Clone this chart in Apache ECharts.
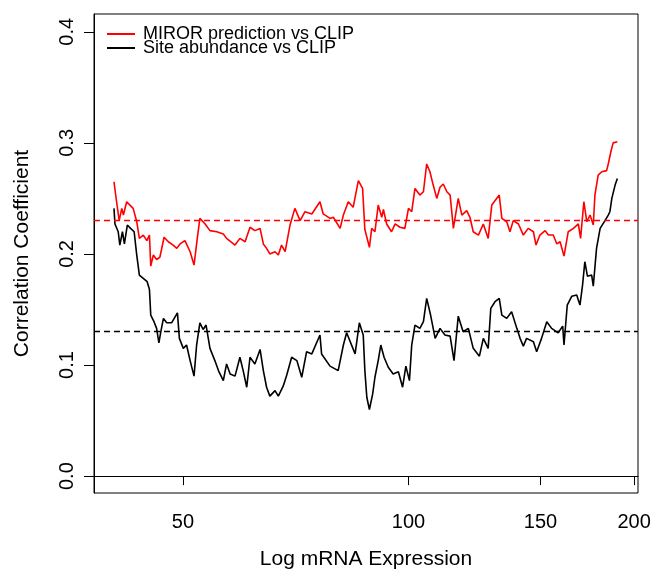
<!DOCTYPE html>
<html>
<head>
<meta charset="utf-8">
<script src="https://cdn.jsdelivr.net/npm/echarts@6/dist/echarts.min.js"></script>
<style>
html,body{margin:0;padding:0;background:#fff;}
#chart{width:656px;height:575px;}
</style>
</head>
<body>
<div id="chart"></div>
<script>
// natural-log expression positions and correlation values
const redX = [3.700,3.708,3.716,3.724,3.729,3.739,3.749,3.759,3.770,3.778,3.790,3.801,3.809,3.813,3.821,3.831,3.841,3.854,3.867,3.882,3.893,3.903,3.918,3.934,3.946,3.956,3.964,3.980,3.995,4.016,4.036,4.046,4.072,4.087,4.103,4.118,4.133,4.149,4.159,4.169,4.179,4.195,4.205,4.215,4.226,4.241,4.256,4.272,4.287,4.308,4.333,4.343,4.364,4.374,4.395,4.405,4.420,4.435,4.451,4.464,4.471,4.485,4.492,4.502,4.512,4.523,4.528,4.538,4.553,4.564,4.579,4.594,4.605,4.615,4.625,4.640,4.651,4.661,4.671,4.681,4.692,4.702,4.712,4.723,4.733,4.743,4.758,4.769,4.784,4.794,4.804,4.820,4.835,4.850,4.861,4.884,4.892,4.907,4.917,4.927,4.943,4.958,4.973,4.989,4.997,5.009,5.025,5.035,5.050,5.061,5.071,5.083,5.096,5.112,5.127,5.134,5.144,5.153,5.163,5.173,5.178,5.188,5.199,5.214,5.219,5.227,5.234,5.247];
const redY = [0.265,0.247,0.230,0.241,0.235,0.247,0.244,0.241,0.229,0.214,0.217,0.212,0.217,0.189,0.199,0.195,0.197,0.215,0.211,0.208,0.205,0.209,0.212,0.202,0.190,0.214,0.232,0.227,0.221,0.220,0.218,0.214,0.208,0.214,0.211,0.224,0.221,0.223,0.209,0.205,0.200,0.202,0.199,0.208,0.202,0.226,0.241,0.230,0.238,0.236,0.247,0.236,0.232,0.233,0.223,0.235,0.247,0.242,0.266,0.259,0.222,0.206,0.223,0.220,0.244,0.233,0.240,0.227,0.220,0.227,0.224,0.223,0.241,0.238,0.259,0.253,0.256,0.281,0.274,0.262,0.250,0.260,0.263,0.256,0.253,0.223,0.250,0.235,0.239,0.233,0.220,0.217,0.227,0.214,0.244,0.253,0.232,0.229,0.220,0.230,0.227,0.217,0.223,0.220,0.208,0.217,0.221,0.217,0.217,0.209,0.211,0.198,0.220,0.223,0.227,0.214,0.247,0.229,0.235,0.226,0.253,0.271,0.274,0.275,0.281,0.292,0.300,0.301];
const blackX = [3.700,3.703,3.713,3.718,3.726,3.732,3.741,3.751,3.762,3.770,3.778,3.790,3.802,3.809,3.813,3.823,3.831,3.838,3.844,3.852,3.862,3.877,3.895,3.901,3.913,3.923,3.934,3.946,3.954,3.964,3.974,3.983,3.995,4.010,4.021,4.036,4.046,4.057,4.072,4.087,4.097,4.108,4.118,4.133,4.149,4.159,4.169,4.179,4.195,4.205,4.220,4.231,4.246,4.262,4.277,4.292,4.308,4.333,4.338,4.364,4.389,4.405,4.415,4.441,4.454,4.466,4.471,4.477,4.485,4.495,4.502,4.512,4.520,4.530,4.543,4.558,4.574,4.587,4.597,4.608,4.615,4.625,4.640,4.651,4.661,4.673,4.687,4.702,4.717,4.733,4.745,4.758,4.773,4.789,4.804,4.823,4.835,4.850,4.858,4.871,4.884,4.892,4.907,4.922,4.938,4.948,4.958,4.968,4.989,4.999,5.014,5.030,5.045,5.065,5.079,5.083,5.093,5.107,5.122,5.132,5.140,5.147,5.155,5.168,5.173,5.183,5.194,5.209,5.219,5.224,5.230,5.240,5.247];
const blackY = [0.241,0.227,0.220,0.208,0.220,0.209,0.226,0.223,0.220,0.199,0.181,0.178,0.175,0.168,0.145,0.139,0.133,0.120,0.130,0.142,0.138,0.138,0.147,0.124,0.115,0.118,0.104,0.090,0.118,0.138,0.132,0.136,0.115,0.104,0.095,0.086,0.101,0.092,0.090,0.107,0.095,0.080,0.107,0.101,0.114,0.095,0.080,0.072,0.077,0.072,0.081,0.091,0.107,0.104,0.089,0.112,0.110,0.127,0.110,0.099,0.095,0.118,0.129,0.110,0.138,0.127,0.095,0.071,0.060,0.074,0.089,0.104,0.118,0.107,0.098,0.092,0.094,0.080,0.099,0.086,0.118,0.136,0.133,0.139,0.160,0.145,0.124,0.133,0.127,0.126,0.104,0.144,0.130,0.133,0.115,0.108,0.124,0.115,0.151,0.157,0.160,0.145,0.142,0.148,0.133,0.124,0.117,0.124,0.121,0.112,0.124,0.139,0.133,0.129,0.135,0.118,0.154,0.162,0.163,0.154,0.172,0.193,0.180,0.181,0.171,0.205,0.223,0.230,0.235,0.238,0.250,0.262,0.268];
const redMean = 0.229;
const blackMean = 0.127;
const xTickLabels = [50, 100, 150, 200];
const yTickLabels = [0, 0.1, 0.2, 0.3, 0.4];
const seriesNames = ['MIROR prediction vs CLIP', 'Site abundance vs CLIP'];

const FONT = 'Liberation Sans, Arial, sans-serif';
const pairs = (xs, ys) => xs.map((x, i) => [x, ys[i]]);
const xTickPos = xTickLabels.map(v => Math.log(v));

const chart = echarts.init(document.getElementById('chart'), null, {renderer: 'canvas'});
chart.setOption({
  animation: false,
  backgroundColor: '#fff',
  grid: {left: 94, top: 14, width: 544, height: 482, show: true, borderColor: '#000', borderWidth: 1, containLabel: false},
  legend: {
    orient: 'vertical', left: 107, top: 25, padding: 0, itemGap: -4,
    itemWidth: 28, itemHeight: 2, icon: 'rect',
    data: seriesNames,
    textStyle: {fontFamily: FONT, fontSize: 18, lineHeight: 14, color: '#000', padding: [0, 0, 0, 3]},
    selectedMode: false
  },
  xAxis: {
    type: 'value', min: 3.6386, max: 5.3104,
    name: 'Log mRNA Expression', nameLocation: 'middle', nameGap: 56,
    nameTextStyle: {fontFamily: FONT, fontSize: 21, color: '#000'},
    axisLine: {show: true, lineStyle: {color: '#000', width: 1}},
    axisTick: {show: true, inside: false, length: 9, customValues: xTickPos, lineStyle: {color: '#000', width: 1}},
    axisLabel: {show: true, margin: 19, customValues: xTickPos, fontFamily: FONT, fontSize: 20, color: '#000',
      formatter: v => String(Math.round(Math.exp(v)))},
    splitLine: {show: false}
  },
  yAxis: {
    type: 'value', min: -0.0152, max: 0.416,
    name: 'Correlation Coefficient', nameLocation: 'middle', nameGap: 61, nameRotate: 90,
    nameTextStyle: {fontFamily: FONT, fontSize: 21, color: '#000'},
    axisLine: {show: true, lineStyle: {color: '#000', width: 1}},
    axisTick: {show: true, inside: false, length: 10, customValues: yTickLabels, lineStyle: {color: '#000', width: 1}},
    axisLabel: {show: true, margin: 17, rotate: 90, customValues: yTickLabels, fontFamily: FONT, fontSize: 20, color: '#000',
      formatter: v => Number(v).toFixed(1)},
    splitLine: {show: false}
  },
  series: [
    {
      name: seriesNames[0], type: 'line', data: pairs(redX, redY),
      showSymbol: false, symbol: 'none', color: '#ff0000',
      lineStyle: {color: '#ff0000', width: 1.6}, z: 3,
      markLine: {silent: true, symbol: ['none', 'none'], label: {show: false},
        lineStyle: {color: '#ff0000', type: [6, 4], width: 1.3}, data: [{yAxis: redMean}]}
    },
    {
      name: seriesNames[1], type: 'line', data: pairs(blackX, blackY),
      showSymbol: false, symbol: 'none', color: '#000000',
      lineStyle: {color: '#000000', width: 1.6}, z: 2,
      markLine: {silent: true, symbol: ['none', 'none'], label: {show: false},
        lineStyle: {color: '#000000', type: [6, 4], width: 1.3}, data: [{yAxis: blackMean}]}
    }
  ]
});
</script>
</body>
</html>
